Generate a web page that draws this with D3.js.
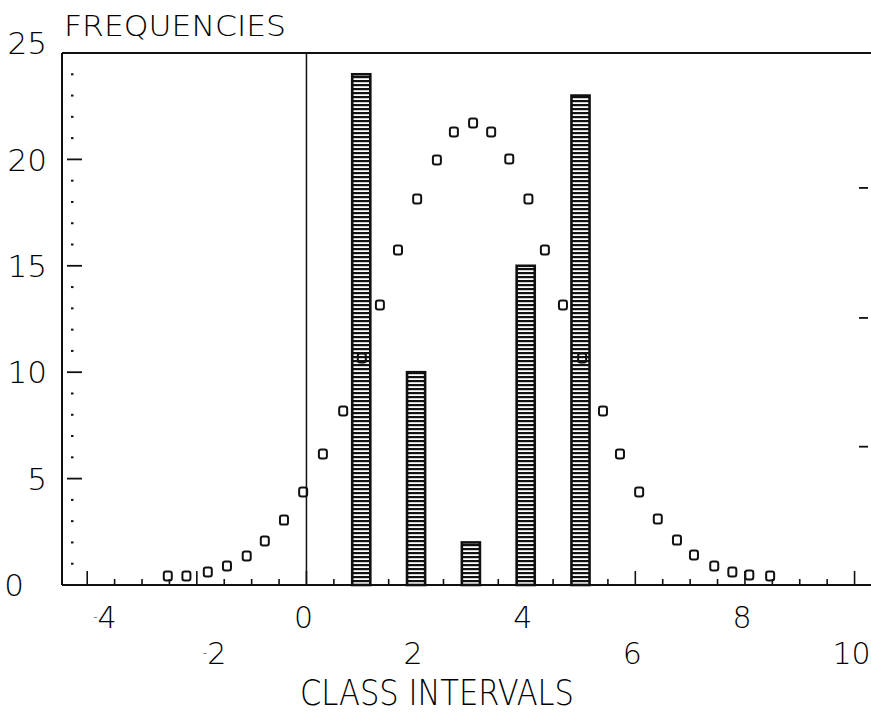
<!DOCTYPE html>
<html>
<head>
<meta charset="utf-8">
<script src="https://cdn.jsdelivr.net/npm/d3@7"></script>
<style>
  html, body { margin: 0; padding: 0; background: #fff; }
  svg { display: block; }
  text { font-family: "DejaVu Sans", sans-serif; font-weight: 200; fill: #000; }
</style>
</head>
<body>
<svg id="chart" width="871" height="715"></svg>
<script>
// class midpoints and observed frequencies (the hatched bars)
var barX = [1, 2, 3, 4, 5];
var barFreq = [24, 10, 2, 15, 23];

// fitted curve, plotted as little open squares
var curveX = [-2.53, -2.19, -1.80, -1.45, -1.09, -0.76, -0.41, -0.06, 0.30, 0.67, 1.01,
              1.34, 1.67, 2.02, 2.38, 2.69, 3.04, 3.37, 3.70, 4.05, 4.35, 4.68, 5.03,
              5.41, 5.72, 6.07, 6.41, 6.76, 7.07, 7.44, 7.77, 8.08, 8.46];
var curveY = [0.42, 0.42, 0.61, 0.89, 1.36, 2.07, 3.05, 4.37, 6.16, 8.18, 10.67,
              13.16, 15.74, 18.14, 19.97, 21.29, 21.71, 21.29, 20.02, 18.14, 15.74, 13.16, 10.67,
              8.18, 6.16, 4.37, 3.10, 2.11, 1.41, 0.89, 0.61, 0.47, 0.42];

var yLabels = [0, 5, 10, 15, 20, 25];
var xLabelsTop = [-4, 0, 4, 8];
var xLabelsBottom = [-2, 2, 6, 10];
var rightTicks = [6.5, 12.55, 18.66];

var svg = d3.select("#chart");

var x = d3.scaleLinear().domain([-4.46, 10.3]).range([62, 871]);
var y = d3.scaleLinear().domain([0, 25]).range([585, 53]);

// hatching for the bars
var defs = svg.append("defs");
var pat = defs.append("pattern")
    .attr("id", "hatch")
    .attr("patternUnits", "userSpaceOnUse")
    .attr("width", 20).attr("height", 4);
pat.append("rect").attr("width", 20).attr("height", 4).attr("fill", "#fff");
pat.append("rect").attr("y", 0).attr("width", 20).attr("height", 2.2).attr("fill", "#111");

// frame: top, left, bottom
var frame = svg.append("g").attr("stroke", "#111").attr("fill", "none");
frame.append("line").attr("x1", x.range()[0]).attr("x2", x.range()[1])
    .attr("y1", y(25)).attr("y2", y(25)).attr("stroke-width", 2);
frame.append("line").attr("x1", x.range()[0]).attr("x2", x.range()[0])
    .attr("y1", y(25)).attr("y2", y(0)).attr("stroke-width", 2);
frame.append("line").attr("x1", x.range()[0]).attr("x2", x.range()[1])
    .attr("y1", y(0)).attr("y2", y(0)).attr("stroke-width", 2);

// vertical line at zero
svg.append("line")
    .attr("x1", x(0)).attr("x2", x(0))
    .attr("y1", y(25)).attr("y2", y(0))
    .attr("stroke", "#111").attr("stroke-width", 1.5);

// y ticks: dots every unit, dashes every 5
var yt = svg.append("g").attr("stroke", "#111");
d3.range(1, 25, 1).forEach(function(v) {
    if (v % 5 === 0) {
        yt.append("line").attr("x1", 67).attr("x2", 82)
            .attr("y1", y(v)).attr("y2", y(v)).attr("stroke-width", 1.8);
    } else {
        yt.append("line").attr("x1", 71).attr("x2", 73.5)
            .attr("y1", y(v)).attr("y2", y(v)).attr("stroke-width", 2);
    }
});
rightTicks.forEach(function(v) {
    yt.append("line").attr("x1", 859).attr("x2", 868)
        .attr("y1", y(v)).attr("y2", y(v)).attr("stroke-width", 1.8);
});

// x ticks every half unit, long ones at even values
var xt = svg.append("g").attr("stroke", "#111").attr("stroke-width", 1.6);
d3.range(-4, 10.01, 0.5).forEach(function(v) {
    var h = (Math.abs(v % 2) < 1e-9) ? 14 : 6;
    xt.append("line").attr("x1", x(v)).attr("x2", x(v))
        .attr("y1", y(0)).attr("y2", y(0) - h);
});

// bars
var bw = 0.33;
svg.append("g").selectAll("rect")
    .data(barX)
    .join("rect")
    .attr("x", function(d) { return x(d - bw / 2); })
    .attr("y", function(d, i) { return y(barFreq[i]); })
    .attr("width", x(bw) - x(0))
    .attr("height", function(d, i) { return y(0) - y(barFreq[i]); })
    .attr("fill", "url(#hatch)")
    .attr("stroke", "#111")
    .attr("stroke-width", 2.6);

// curve markers
svg.append("g").selectAll("rect")
    .data(curveX)
    .join("rect")
    .attr("x", function(d) { return x(d) - 4; })
    .attr("y", function(d, i) { return y(curveY[i]) - 4.5; })
    .attr("width", 8).attr("height", 9)
    .attr("rx", 2.2)
    .attr("fill", "none")
    .attr("stroke", "#111")
    .attr("stroke-width", 2);

// y labels
var yl = svg.append("g").attr("font-size", 31);
yLabels.forEach(function(v) {
    yl.append("text")
        .attr("text-anchor", "end")
        .attr("x", v === 0 ? 24 : 47)
        .attr("y", y(v) + (v === 25 ? -10 : 0))
        .attr("dy", "0.36em")
        .text(v);
});

// x labels, two staggered rows
function xLabel(v, baseY) {
    var t = svg.append("text").attr("font-size", 30).attr("y", baseY);
    if (v < 0) {
        t.attr("x", x(v) + 6).attr("text-anchor", "start");
        t.append("tspan").attr("font-size", 12).attr("dy", -7).text("-");
        t.append("tspan").attr("dy", 7).text(Math.abs(v));
    } else {
        t.attr("x", x(v) - 3).attr("text-anchor", "middle").text(v);
    }
}
xLabelsTop.forEach(function(v) { xLabel(v, 628); });
xLabelsBottom.forEach(function(v) { xLabel(v, 664); });

// titles
svg.append("text")
    .attr("x", 64).attr("y", 36)
    .attr("font-size", 28)
    .attr("textLength", 222).attr("lengthAdjust", "spacingAndGlyphs")
    .text("FREQUENCIES");

svg.append("text")
    .attr("x", 300).attr("y", 705)
    .attr("font-size", 36)
    .attr("textLength", 274).attr("lengthAdjust", "spacingAndGlyphs")
    .text("CLASS INTERVALS");
</script>
</body>
</html>
